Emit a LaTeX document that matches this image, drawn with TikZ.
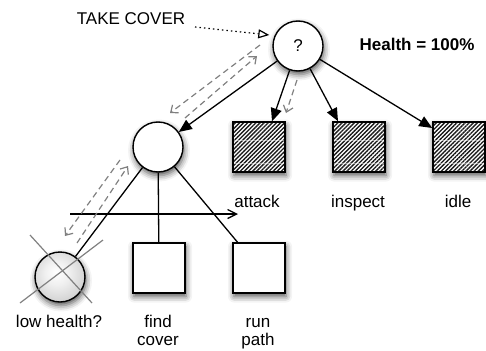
\documentclass[tikz,border=0pt]{standalone}
\usepackage{fontspec}
\setmainfont{Liberation Sans}
\usetikzlibrary{arrows.meta,shadows.blur,patterns.meta,calc}

% soft rim for the sequence node, lit ball for the failed condition
\pgfdeclareradialshading{rimglow}{\pgfpoint{0bp}{0bp}}{color(0bp)=(white); color(30bp)=(white); color(50bp)=(black!20)}
\pgfdeclareradialshading{litball}{\pgfpoint{-4bp}{5bp}}{color(0bp)=(white); color(12bp)=(black!6); color(42bp)=(black!28); color(58bp)=(black!42)}

\begin{document}
\begin{tikzpicture}[x=1pt,y=-1pt,
  every node/.style={font=\fontsize{17}{20}\selectfont},
  soft/.style={blur shadow={shadow xshift=1pt, shadow yshift=-3.5pt,
      shadow blur radius=6pt, shadow opacity=68}},
  decision/.style={circle, draw, line width=1.4pt, minimum size=50pt,
      inner sep=0pt, fill=white, soft},
  taskbox/.style={rectangle, draw, line width=1.6pt, minimum width=52pt,
      minimum height=50pt, inner sep=0pt, soft},
  hatched/.style={taskbox, preaction={fill=white},
      pattern={Lines[angle=45,distance=2.9pt,line width=1.35pt]},
      pattern color=black!90,
      path picture={\foreach \f in {0.36,0.82}
        \draw[white, opacity=0.5, line width=0.8pt]
          ($(path picture bounding box.north west)!\f!(path picture bounding box.south west)$) --
          ($(path picture bounding box.north east)!\f!(path picture bounding box.south east)$);}},
  lbl/.style={anchor=base, inner sep=0pt},
  tree/.style={line width=1.3pt, -{Triangle[length=13pt,width=11pt]}},
  link/.style={line width=1.3pt},
  sweep/.style={line width=1.3pt, -{Straight Barb[length=9pt,width=9pt]}},
  trace/.style={draw=black!50, line width=1.2pt, dash pattern=on 6pt off 4pt,
      -{Straight Barb[length=6pt,width=10pt]}},
  order/.style={line width=1.2pt, dash pattern=on 1.5pt off 3pt,
      -{Triangle[open, fill=white, length=11pt, width=9pt]}},
  cross/.style={draw=black!50, line width=1.2pt},
]
\useasboundingbox (0,0) rectangle (486,350);

% behaviour tree nodes
\node[decision] (root) at (298,46) {?};
\node[decision, shading=rimglow] (mid) at (158,147) {};
\node[hatched] (attack) at (259,147) {};
\node[hatched] (inspect) at (359,147) {};
\node[hatched] (idle) at (459,147) {};
\node[decision, shading=litball] (low) at (60,277) {};
\node[taskbox, fill=white] (find) at (159,268) {};
\node[taskbox, fill=white] (run) at (259,268) {};

% labels
\node[lbl] (cmd) at (131,25) {TAKE COVER};
\node[lbl, font=\fontsize{17}{20}\selectfont\bfseries] (health) at (417,51) {Health = 100\%};
\node[lbl] (attacklbl) at (257,207) {attack};
\node[lbl] (inspectlbl) at (358,207) {inspect};
\node[lbl] (idlelbl) at (458,207) {idle};
\node[lbl] (lowlbl) at (59,327) {low health?};
\node[lbl] (findlbl) at (158,327) {find};
\node[lbl] (findlbl2) at (158,345) {cover};
\node[lbl] (runlbl) at (258,327) {run};
\node[lbl] (runlbl2) at (258,345) {path};

% edges from the selector
\draw[tree] (root) -- (mid);
\draw[tree] (root) -- ([xshift=13pt]attack.north);
\draw[tree] (root) -- ([xshift=-21pt]inspect.north);
\draw[tree] (root) -- ([yshift=19pt]idle.west);

% edges of the sequence
\draw[link] (mid) -- (low);
\draw[link] (mid) -- (find);
\draw[link] (mid) -- (run);

% sequence sweep
\coordinate (sweepA) at (70,214);
\coordinate (sweepB) at (238,214);
\draw[sweep] (sweepA) -- (sweepB);

% failed condition
\draw[cross] ($(low)+(-30,-42)$) -- ($(low)+(32,26)$);
\draw[cross] ($(low)+(-40,26)$) -- ($(low)+(43,-37)$);

% incoming order
\coordinate (cmdtail) at (195,27);
\draw[order] (cmdtail) -- ([xshift=-3pt,yshift=11pt]root.west);

% evaluation traces
\coordinate (t1a) at (260,45);  \coordinate (t1b) at (170,113);
\coordinate (t2a) at (185,118); \coordinate (t2b) at (257,56);
\coordinate (t3a) at (120,160); \coordinate (t3b) at (65,236);
\coordinate (t4a) at (77,243);  \coordinate (t4b) at (128,166);
\coordinate (t5a) at (297,80);  \coordinate (t5b) at (286,113);
\draw[trace] (t1a) -- (t1b);
\draw[trace] (t2a) -- (t2b);
\draw[trace] (t3a) -- (t3b);
\draw[trace] (t4a) -- (t4b);
\draw[trace] (t5a) -- (t5b);
\end{tikzpicture}
\end{document}
